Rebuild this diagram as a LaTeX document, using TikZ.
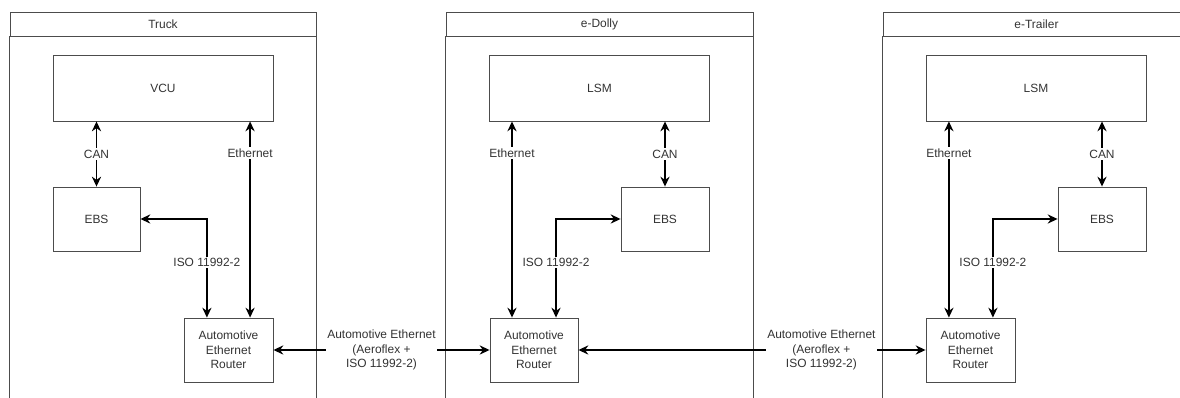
\documentclass[tikz,border=0pt]{standalone}
\usepackage{fontspec}
\setmainfont{Liberation Sans}
\usetikzlibrary{arrows.meta}

\begin{document}
\begin{tikzpicture}[x=0.025cm, y=-0.025cm,
        font=\fontsize{8.5}{10.3}\selectfont, text=black!80,
        unit/.style={draw=black!70, line width=0.6pt, align=center, inner sep=0pt},
        lane/.style={unit, minimum height=0.6cm},
        side/.style={draw=black!70, line width=0.6pt},
        link/.style={<->, >={Stealth[length=7pt, width=6.5pt]}, line width=1.2pt},
        tag/.style={fill=white, inner sep=1pt, align=center}]
        \useasboundingbox (0,0) rectangle (1180,398);
        \coordinate (bottom) at (0,398);

        \node[lane, minimum width=7.65cm] (truck) at (163,24) {Truck};
        \node[lane, minimum width=7.675cm] (dolly) at (599.5,24) {e-Dolly};
        \node[lane, minimum width=7.675cm] (trailer) at (1036.5,24) {e-Trailer};
        \draw[side] (truck.south west) -- (truck.south west |- bottom);
        \draw[side] (truck.south east) -- (truck.south east |- bottom);
        \draw[side] (dolly.south west) -- (dolly.south west |- bottom);
        \draw[side] (dolly.south east) -- (dolly.south east |- bottom);
        \draw[side] (trailer.south west) -- (trailer.south west |- bottom);
        \draw[side] (trailer.south east) -- (trailer.south east |- bottom);

        \node[unit, minimum width=5.5cm, minimum height=1.65cm] (vcu) at (163,88) {VCU};
        \node[unit, minimum width=2.175cm, minimum height=1.6cm] (ebsTruck) at (96.5,219) {EBS};
        \node[unit, minimum width=2.225cm, minimum height=1.6cm] (rtrTruck) at (228.5,350)
            {Automotive\\Ethernet\\Router};

        \node[unit, minimum width=5.5cm, minimum height=1.65cm] (lsmDolly) at (599.5,88) {LSM};
        \node[unit, minimum width=2.2cm, minimum height=1.6cm] (ebsDolly) at (665,219) {EBS};
        \node[unit, minimum width=2.2cm, minimum height=1.6cm] (rtrDolly) at (534,350)
            {Automotive\\Ethernet\\Router};

        \node[unit, minimum width=5.5cm, minimum height=1.65cm] (lsmTrailer) at (1036,88) {LSM};
        \node[unit, minimum width=2.2cm, minimum height=1.6cm] (ebsTrailer) at (1102,219) {EBS};
        \node[unit, minimum width=2.225cm, minimum height=1.6cm] (rtrTrailer) at (970.5,350)
            {Automotive\\Ethernet\\Router};

        \coordinate (ethTruck) at ([xshift=0.54cm]rtrTruck.north);
        \coordinate (isoTruck) at ([xshift=-0.54cm]rtrTruck.north);
        \coordinate (ethDolly) at ([xshift=-0.55cm]rtrDolly.north);
        \coordinate (isoDolly) at ([xshift=0.55cm]rtrDolly.north);
        \coordinate (ethTrailer) at ([xshift=-0.54cm]rtrTrailer.north);
        \coordinate (isoTrailer) at ([xshift=0.56cm]rtrTrailer.north);

        \draw[link] (vcu.south -| ebsTruck) -- node[tag] {CAN} (ebsTruck.north);
        \draw[link] (vcu.south -| ethTruck) -- node[tag, pos=0.16] {Ethernet} (ethTruck);
        \draw[link] (ebsTruck.east) -| node[tag, pos=0.72] {ISO 11992-2} (isoTruck);

        \draw[link] (lsmDolly.south -| ebsDolly) -- node[tag] {CAN} (ebsDolly.north);
        \draw[link] (lsmDolly.south -| ethDolly) -- node[tag, pos=0.16] {Ethernet} (ethDolly);
        \draw[link] (ebsDolly.west) -| node[tag, pos=0.72] {ISO 11992-2} (isoDolly);

        \draw[link] (lsmTrailer.south -| ebsTrailer) -- node[tag] {CAN} (ebsTrailer.north);
        \draw[link] (lsmTrailer.south -| ethTrailer) -- node[tag, pos=0.16] {Ethernet} (ethTrailer);
        \draw[link] (ebsTrailer.west) -| node[tag, pos=0.72] {ISO 11992-2} (isoTrailer);

        \draw[link] (rtrTruck) -- node[tag] {Automotive Ethernet\\(Aeroflex +\\ISO 11992-2)} (rtrDolly);
        \draw[link] (rtrDolly) -- node[tag, pos=0.7] {Automotive Ethernet\\(Aeroflex +\\ISO 11992-2)} (rtrTrailer);
    \end{tikzpicture}
\end{document}
